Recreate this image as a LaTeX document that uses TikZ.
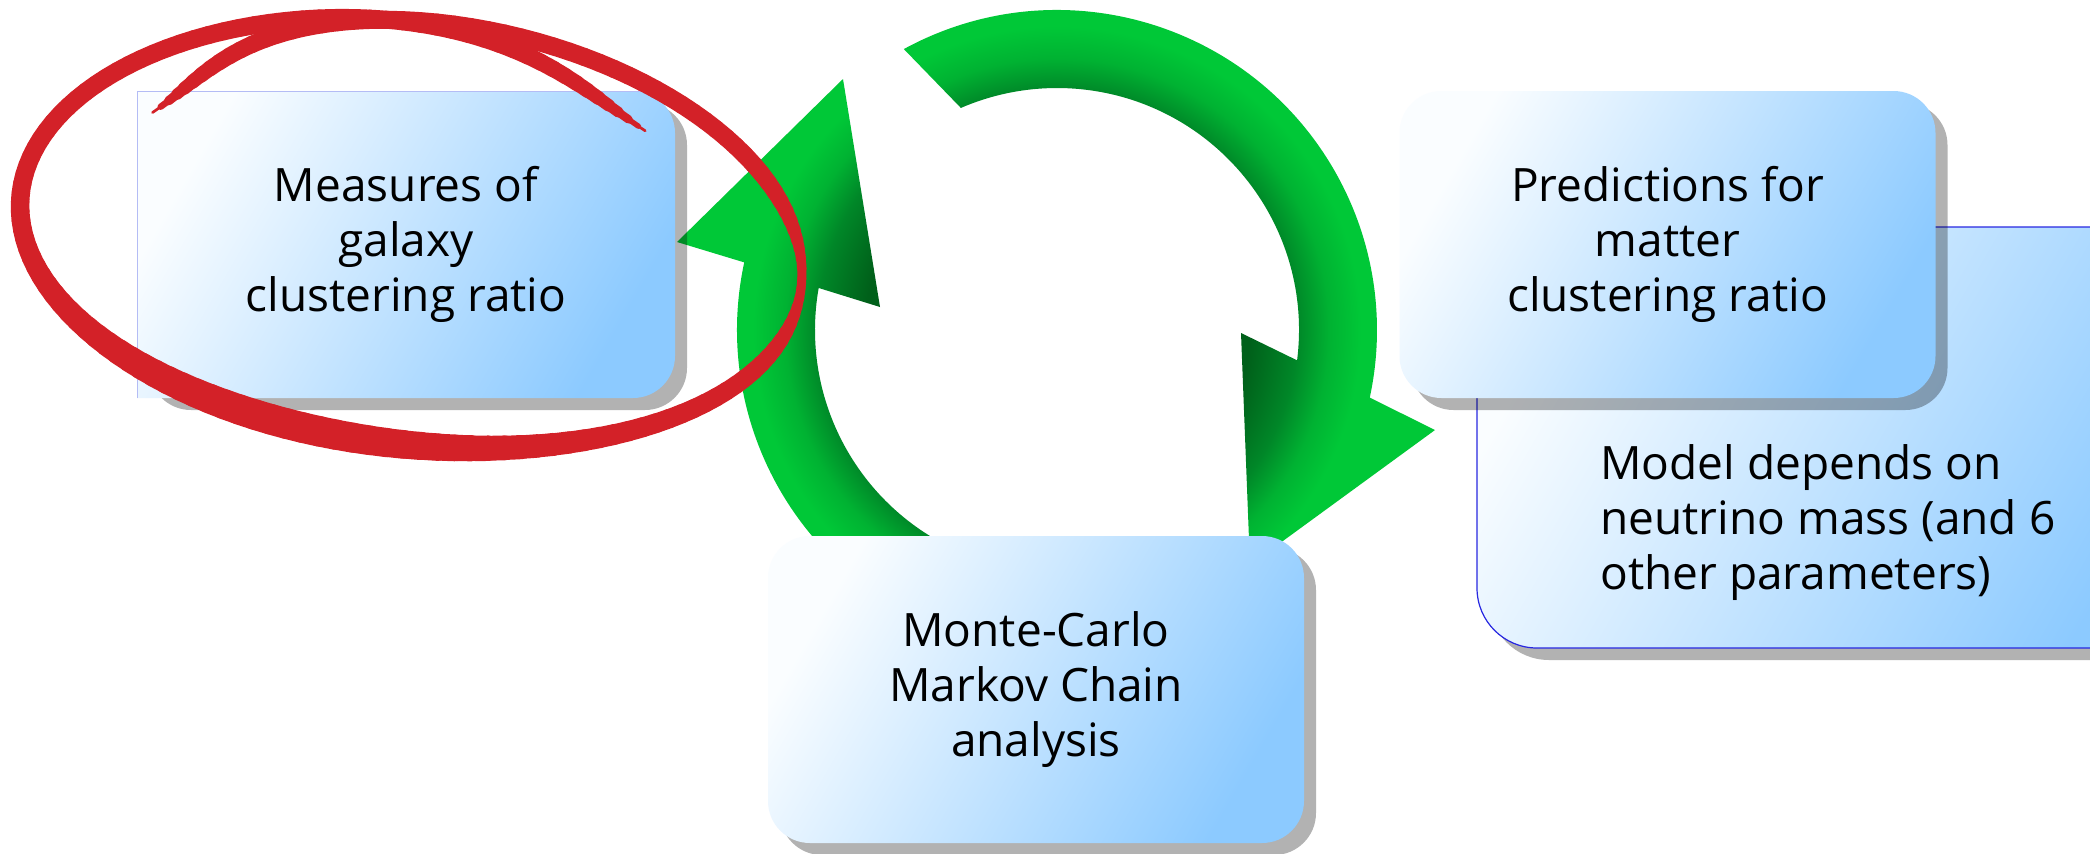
\documentclass[tikz,border=0pt]{standalone}
\usepackage{fontspec}
\setmainfont{Open Sans}
\usetikzlibrary{calc,shadows}
\definecolor{gbright}{RGB}{0,200,55}
\definecolor{glight}{RGB}{0,178,50}
\definecolor{gmid}{RGB}{0,135,40}
\definecolor{gdark}{RGB}{0,96,26}
\definecolor{bxL}{RGB}{250,253,255}
\definecolor{bxR}{RGB}{140,202,255}
\definecolor{penred}{RGB}{211,33,40}
\definecolor{modelblue}{RGB}{40,40,225}
\definecolor{lav}{RGB}{180,188,245}
\pgfdeclareradialshading{ringshade}{\pgfpoint{0bp}{0bp}}{color(0bp)=(gdark); color(12bp)=(gdark); color(15bp)=(gmid); color(17bp)=(glight); color(19bp)=(gbright); color(50bp)=(gbright)}
\begin{document}
\begin{tikzpicture}[x=0.5pt,y=-0.5pt,
  boxfill/.style={left color=bxL, right color=bxR, shading angle=60},
  shad/.style={fill=black, opacity=0.3},
  txt/.style={font=\fontsize{23}{27.5}\selectfont, align=center, inner sep=0pt, text=black},
  boxnode/.style={rectangle, rounded corners=21pt, boxfill, txt,
    minimum width=268pt, minimum height=153.5pt,
    drop shadow={shadow xshift=6pt, shadow yshift=-6pt, fill=black, opacity=0.3}},
  declare function={
    ringsc(\t)=1-0.18*exp(-min(((\t+147.6)/30)^2,30))-0.16*exp(-min(((\t-311.6)/30)^2,30));
    ellX(\t)=393*ringsc(\t)*cos(\t);
    ellY(\t)=(212-8*sin(\t))*ringsc(\t)*sin(\t);
    ellx(\t)=411+ellX(\t)*cos(7)-ellY(\t)*sin(7);
    elly(\t)=240+ellX(\t)*sin(7)+ellY(\t)*cos(7);
    penw(\t)=max(1.5,(10+7*exp(-min(((\t-105)/40)^2,30))-5*exp(-min(((\t+2)/18)^2,30)))
       *(1-exp(-min((\t+147.8)/9,30)))*(1-exp(-min((311.8-\t)/9,30))));
  }]

\fill[white] (0,0) rectangle (2090,853);
\useasboundingbox (0,0) rectangle (2090,853);

% Model box (extends past right edge)
\fill[shad, rounded corners=30pt] (1489,239) rectangle (2200,660);
\shade[boxfill, rounded corners=30pt] (1477,227) rectangle (2200,648);
\draw[modelblue, line width=0.6pt, rounded corners=30pt] (1477,227) rectangle (2200,648);
\node[txt, anchor=west, align=left] (model) at (1600,523) {Model depends on\\neutrino mass (and 6\\other parameters)};

% green cycle arrows
\begin{scope}
  \clip ($(1057,330)+(-118.6:320)$) arc[start angle=-118.6, end angle=12.2, radius=320]
     -- (1435,430) -- (1250,565) -- (1241,333)
     -- ($(1057,330)+(7.2:242)$) arc[start angle=7.2, end angle=-113.4, radius=242] -- cycle;
  \shade[shading=ringshade] (657,-70) rectangle (1457,730);
\end{scope}
\begin{scope}
  \clip ($(1057,330)+(115:320)$) arc[start angle=115, end angle=192.2, radius=320]
     -- (677,242) -- (843,79) -- (880,307)
     -- ($(1057,330)+(190:242)$) arc[start angle=190, end angle=115, radius=242] -- cycle;
  \shade[shading=ringshade] (657,-70) rectangle (1457,730);
\end{scope}

% Box 1 (square left corners)
\fill[shad, rounded corners=21pt] (149,103) rectangle (687,410);
\begin{scope}
  \clip[rounded corners=21pt] (60,91) rectangle (675,398);
  \shade[boxfill] (137,91) rectangle (675,398);
\end{scope}
\draw[lav, line width=0.5pt] (137,398) -- (137,91) -- (650,91);
\node[txt] (meas) at (406,244.5) {Measures of\\galaxy\\clustering ratio};

% Predictions box
\node[boxnode] (pred) at (1667.5,244.5) {Predictions for\\matter\\clustering ratio};

% MCMC box
\node[boxnode] (mcmc) at (1036,689.5) {Monte-Carlo\\Markov Chain\\analysis};

% red hand-drawn ellipse: spiral stroke with varying width
\foreach \i in {0,...,183} {
  \pgfmathsetmacro\ta{-147.6+2.5*\i}
  \pgfmathsetmacro\tb{min(\ta+2.5,311.6)}
  \pgfmathsetmacro\lw{0.9*penw((\ta+\tb)/2)}
  \draw[penred, line width=\lw pt, line cap=round, line join=round]
    plot[domain=\ta:\tb, samples=3] ({ellx(\x)},{elly(\x)});
}
\end{tikzpicture}
\end{document}
